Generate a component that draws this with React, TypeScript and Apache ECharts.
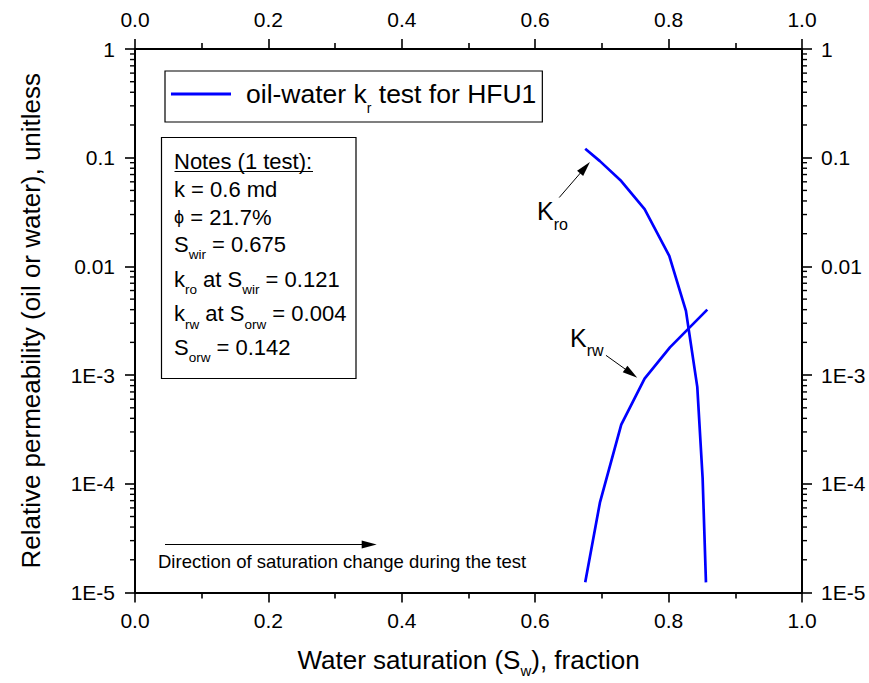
import React, { useEffect, useRef } from 'react';
import * as echarts from 'echarts';

// Oil-water relative permeability test, HFU1
const swKro = [0.675, 0.697, 0.729, 0.764, 0.801, 0.826, 0.843, 0.851, 0.856];
const kro = [0.121, 0.093, 0.061, 0.0336, 0.0125, 0.0039, 0.00078, 0.000113, 0.0000124];
const swKrw = [0.675, 0.697, 0.729, 0.764, 0.802, 0.858];
const krw = [0.0000124, 0.000067, 0.00035, 0.00093, 0.0018, 0.004];

const yTickLabels = ['1E-5', '1E-4', '1E-3', '0.01', '0.1', '1'];
const minorDecades = [-5, -4, -3, -2, -1];
const minorSteps = [2, 3, 4, 5, 6, 7, 8, 9];

const seriesName = 'oil-water kr test for HFU1';

const noteLines = [
  'Notes (1 test):',
  'k = 0.6 md',
  '{p|ϕ} = 21.7%',
  'S{s|wir} = 0.675',
  'k{s|ro} at S{s|wir} = 0.121',
  'k{s|rw} at S{s|orw} = 0.004',
  'S{s|orw} = 0.142',
];
const noteLineY = [161, 189.5, 217, 244, 279, 313.5, 347];

const FONT = '"Liberation Sans", Arial, Helvetica, sans-serif';
const BLUE = '#0000ff';

const yLabel = (v: number) => yTickLabels[Math.round(Math.log10(v)) + 5];

function buildOption() {
  const minorVals: number[][] = [];
  minorDecades.forEach((d) => minorSteps.forEach((m) => minorVals.push([0, m * Math.pow(10, d)])));

  const axisLine = { show: true, onZero: false, lineStyle: { color: '#000', width: 2 } };
  const axisTick = { show: true, inside: false, length: 10, lineStyle: { color: '#000', width: 1.6 } };

  const xAxis = (position: 'bottom' | 'top', withName: boolean) => ({
    type: 'value',
    position,
    min: 0,
    max: 1,
    interval: 0.2,
    axisLine,
    axisTick,
    minorTick: { show: true, splitNumber: 2, length: 6, lineStyle: { color: '#000', width: 1.6 } },
    splitLine: { show: false },
    minorSplitLine: { show: false },
    axisLabel: {
      margin: position === 'top' ? 19 : 17,
      fontSize: 21,
      fontFamily: FONT,
      color: '#000',
      formatter: (v: number) => v.toFixed(1),
    },
    ...(withName
      ? {
          name: '{m|Water saturation (S}{s|w}{m|), fraction}',
          nameLocation: 'middle',
          nameGap: 52,
          nameTextStyle: {
            color: '#000',
            fontFamily: FONT,
            fontSize: 26,
            rich: {
              m: { fontSize: 26, fontFamily: FONT, color: '#000', lineHeight: 30 },
              s: { fontSize: 15, fontFamily: FONT, color: '#000', lineHeight: 30, padding: [22, 0, 0, 0] },
            },
          },
        }
      : {}),
  });

  const yAxis = (position: 'left' | 'right', withName: boolean) => ({
    type: 'log',
    logBase: 10,
    position,
    min: 0.00001,
    max: 1,
    axisLine,
    axisTick,
    minorTick: { show: false },
    splitLine: { show: false },
    axisLabel: {
      margin: position === 'left' ? 20 : 19,
      fontSize: 21,
      fontFamily: FONT,
      color: '#000',
      formatter: yLabel,
    },
    ...(withName
      ? {
          name: 'Relative permeability (oil or water), unitless',
          nameLocation: 'middle',
          nameGap: 91,
          nameTextStyle: { color: '#000', fontFamily: FONT, fontSize: 26 },
        }
      : {}),
  });

  const arrowEnd = { symbol: 'triangle', symbolSize: [8, 15] };

  const textEl = (x: number, y: number, text: string, fontSize: number, rich: any = {}) => ({
    type: 'text',
    x,
    y,
    silent: true,
    style: {
      text,
      x: 0,
      y: 0,
      fill: '#000',
      fontSize,
      fontFamily: FONT,
      align: 'left',
      verticalAlign: 'middle',
      lineHeight: 28,
      rich,
    },
  });

  const notesRich = {
    s: { fontSize: 13.5, fontFamily: FONT, fill: '#000', lineHeight: 28, padding: [21, 0, 0, 0] },
    p: { fontSize: 18, fontFamily: FONT, fill: '#000', lineHeight: 28 },
  };
  const kRich = {
    s: { fontSize: 16, fontFamily: FONT, fill: '#000', lineHeight: 30, padding: [26, 0, 0, 0] },
  };

  return {
    animation: false,
    backgroundColor: '#fff',
    grid: { left: 135, right: 67, top: 49, bottom: 88, containLabel: false },
    legend: {
      data: [seriesName],
      left: 165,
      top: 71,
      orient: 'horizontal',
      icon: 'rect',
      itemWidth: 60,
      itemHeight: 3,
      padding: [2, 6, 7, 6],
      backgroundColor: '#fff',
      borderColor: '#000',
      borderWidth: 1.2,
      borderRadius: 0,
      selectedMode: false,
      formatter: () => '{a|oil-water k}{s|r}{m| test for HFU1}',
      textStyle: {
        color: '#000',
        fontFamily: FONT,
        fontSize: 26.5,
        rich: {
          a: { fontSize: 26.5, fontFamily: FONT, color: '#000', lineHeight: 30, padding: [0, 0, 0, 10] },
          m: { fontSize: 26.5, fontFamily: FONT, color: '#000', lineHeight: 30 },
          s: { fontSize: 14, fontFamily: FONT, color: '#000', lineHeight: 30, padding: [28, 0, 0, 0] },
        },
      },
    },
    xAxis: [xAxis('bottom', true), xAxis('top', false)],
    yAxis: [yAxis('left', true), yAxis('right', false)],
    series: [
      {
        name: seriesName,
        type: 'line',
        xAxisIndex: 0,
        yAxisIndex: 0,
        symbol: 'none',
        showSymbol: false,
        lineStyle: { color: BLUE, width: 2.7 },
        itemStyle: { color: BLUE },
        data: swKro.map((x, i) => [x, kro[i]]),
        markLine: {
          silent: true,
          symbol: ['none', 'triangle'],
          label: { show: false },
          lineStyle: { color: '#000', width: 1, type: 'solid' },
          emphasis: { disabled: true },
          data: [
            [{ coord: [0.636, 0.043], symbol: 'none' }, { coord: [0.6747, 0.081], ...arrowEnd }],
            [{ coord: [0.7061, 0.00152], symbol: 'none' }, { coord: [0.7439, 0.001037], ...arrowEnd }],
            [{ coord: [0.045, 0.0000277], symbol: 'none' }, { coord: [0.3511, 0.0000277], ...arrowEnd }],
          ],
        },
      },
      {
        name: seriesName,
        type: 'line',
        xAxisIndex: 0,
        yAxisIndex: 0,
        symbol: 'none',
        showSymbol: false,
        lineStyle: { color: BLUE, width: 2.7 },
        itemStyle: { color: BLUE },
        data: swKrw.map((x, i) => [x, krw[i]]),
      },
      {
        // log-scale minor ticks (2..9 per decade) on both vertical axes
        name: 'minor-ticks',
        type: 'custom',
        xAxisIndex: 0,
        yAxisIndex: 0,
        silent: true,
        clip: false,
        data: minorVals,
        renderItem: (_params: any, api: any) => {
          const v = api.value(1);
          const a = api.coord([0, v]);
          const b = api.coord([1, v]);
          const st = { stroke: '#000', lineWidth: 1.4 };
          return {
            type: 'group',
            children: [
              { type: 'line', shape: { x1: a[0] - 5, y1: a[1], x2: a[0], y2: a[1] }, style: st },
              { type: 'line', shape: { x1: b[0], y1: b[1], x2: b[0] + 5, y2: b[1] }, style: st },
            ],
          };
        },
      },
    ],
    graphic: [
      {
        type: 'rect',
        silent: true,
        shape: { x: 161.5, y: 137.5, width: 194.5, height: 241 },
        style: { fill: '#fff', stroke: '#000', lineWidth: 1.2 },
      },
      ...noteLines.map((t, i) => textEl(174, noteLineY[i], t, 22, notesRich)),
      {
        type: 'line',
        silent: true,
        shape: { x1: 174.5, y1: 171.5, x2: 313, y2: 171.5 },
        style: { stroke: '#000', lineWidth: 1 },
      },
      textEl(537, 211, 'K{s|ro}', 25, kRich),
      textEl(570, 337.5, 'K{s|rw}', 25, kRich),
      textEl(158, 561, 'Direction of saturation change during the test', 18.5),
    ],
  };
}

export default function App() {
  const ref = useRef<HTMLDivElement>(null);
  useEffect(() => {
    document.body.style.margin = '0';
    const chart = echarts.init(ref.current as HTMLDivElement, null, { renderer: 'svg' });
    chart.setOption(buildOption() as any);
    return () => chart.dispose();
  }, []);
  return <div ref={ref} style={{ width: 869, height: 683 }} />;
}
